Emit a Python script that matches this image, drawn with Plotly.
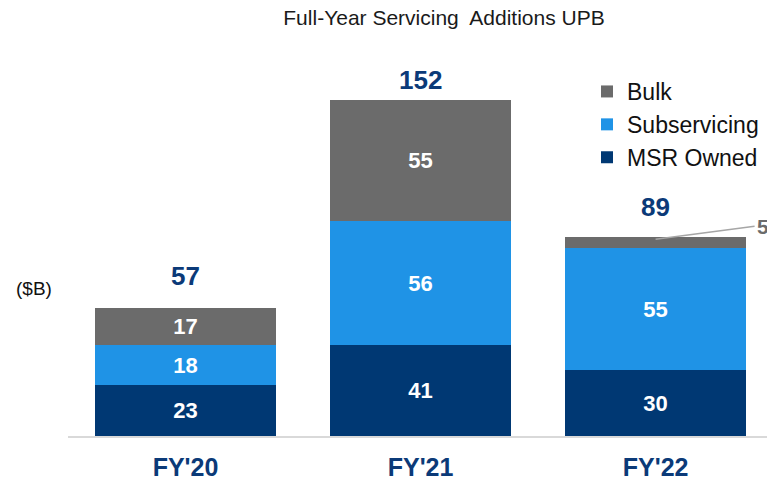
import plotly.graph_objects as go

categories = ["FY'20", "FY'21", "FY'22"]
msr_owned = [23, 41, 30]
subservicing = [18, 56, 55]
bulk = [17, 55, 5]
totals = [57, 152, 89]

FONT = "Liberation Sans, Arial, sans-serif"
NAVY = "#0b3a78"
C_MSR = "#003873"
C_SUB = "#1f93e6"
C_BULK = "#6b6b6b"

# plot-area geometry (pixels)
L, R, T, B = 68, 767, 60, 436
W, H = 767, 482
PW, PH = R - L, B - T

# vertical pixel offsets of the total labels above each bar (style, not data)
total_label_shift = [17, 3, 15]

def px(x):
    return (x - L) / PW

def py(y):
    return (B - y) / PH

fig = go.Figure()
bar_w = 0.77

def lbl(vals):
    return [str(v) if v >= 10 else "" for v in vals]

for name, vals, col in [("MSR Owned", msr_owned, C_MSR),
                        ("Subservicing", subservicing, C_SUB),
                        ("Bulk", bulk, C_BULK)]:
    fig.add_trace(go.Bar(
        x=categories, y=vals, name=name, marker=dict(color=col, line=dict(width=0)),
        width=bar_w, text=lbl(vals), textposition="inside", insidetextanchor="middle",
        textfont=dict(family=FONT, size=22, color="white", weight="bold"),
        hoverinfo="skip",
    ))

annotations = []
for c, t, s in zip(categories, totals, total_label_shift):
    annotations.append(dict(x=c, y=t, xref="x", yref="y", text=f"<b>{t}</b>",
                            showarrow=False, yanchor="bottom", yshift=s,
                            font=dict(family=FONT, size=26, color=NAVY)))

# leader label for small bulk value
annotations.append(dict(x=categories[2], y=totals[2], xref="x", yref="y",
                        text=f"<b>{bulk[2]}</b>", showarrow=True, arrowhead=0,
                        arrowwidth=1.5, arrowcolor="#a6a6a6", ax=99, ay=-13,
                        xanchor="left", yanchor="middle",
                        font=dict(family=FONT, size=21, color=C_BULK)))

annotations.append(dict(x=px(34), y=py(288), xref="paper", yref="paper", text="($B)",
                        showarrow=False, xanchor="center", yanchor="middle",
                        font=dict(family=FONT, size=19, color="#111")))

fig.update_layout(
    barmode="stack",
    width=W, height=H,
    margin=dict(l=L, r=W - R, t=T, b=H - B, autoexpand=False),
    paper_bgcolor="white", plot_bgcolor="white",
    title=dict(text="Full-Year Servicing  Additions UPB", x=444 / W, xanchor="center",
               xref="container", yref="container",
               y=1 - 18 / H, yanchor="middle",
               font=dict(family=FONT, size=21, color="#1a1a1a")),
    font=dict(family=FONT),
    showlegend=True,
    legend=dict(x=px(587), y=py(70), xanchor="left", yanchor="top",
                traceorder="reversed", font=dict(family=FONT, size=23, color="#111"),
                bgcolor="rgba(0,0,0,0)", itemwidth=30, tracegroupgap=0),
    bargap=0,
    annotations=annotations,
)

fig.update_xaxes(range=[-0.5, 2.474], showline=True, linecolor="#d9d9d9", linewidth=2,
                 ticks="", showgrid=False, zeroline=False, ticklabelstandoff=8,
                 automargin=False,
                 tickfont=dict(family=FONT, size=25, color=NAVY, weight="bold"))
fig.update_yaxes(range=[0, 170], visible=False, showgrid=False, zeroline=False,
                 automargin=False)

fig.write_html("out.html", config={"displayModeBar": False},
               post_script="document.body.style.margin='0';document.body.style.overflow='hidden';")
